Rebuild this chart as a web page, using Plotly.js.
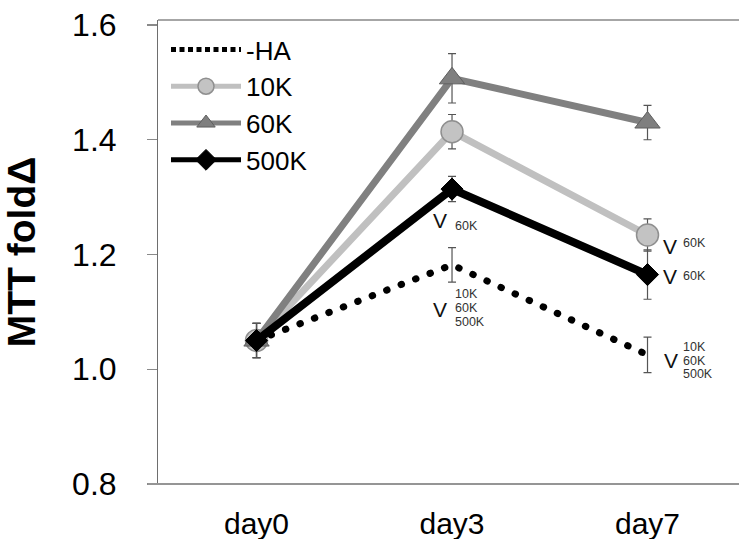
<!DOCTYPE html>
<html>
<head>
<meta charset="utf-8">
<script src="https://cdn.plot.ly/plotly-3.0.1.min.js"></script>
<style>
  html, body { margin: 0; padding: 0; background: #fff; overflow: hidden; }
  #chart { width: 739px; height: 539px; }
  .scatterlayer .trace:first-child path.js-line { stroke-linecap: round; }
  .legend .traces path.js-line { stroke-width: 5px !important; }
  .legend .traces:first-child path.js-line { stroke-dasharray: 5px,3.5px !important; stroke-linecap: butt !important; }
</style>
</head>
<body>
<div id="chart"></div>
<script>
// ---- data ----
const days = ["day0", "day3", "day7"];
const seriesNames = ["-HA", "10K", "60K", "500K"];
const haValues = [1.05, 1.182, 1.025];
const haErrors = [0.03, 0.030, 0.031];
const k10Values = [1.05, 1.414, 1.234];
const k10Errors = [0.03, 0.030, 0.028];
const k60Values = [1.05, 1.507, 1.430];
const k60Errors = [0.03, 0.043, 0.030];
const k500Values = [1.05, 1.314, 1.165];
const k500Errors = [0.03, 0.022, 0.043];
const yTickValues = [0.8, 1.0, 1.2, 1.4, 1.6];
const yTickLabels = ["0.8", "1.0", "1.2", "1.4", "1.6"];

const FONT = "Liberation Sans, Arial, sans-serif";
const errStyle = (arr) => ({ type: "data", array: arr, visible: true, color: "#555555", thickness: 1.2, width: 4 });

const traces = [
  {
    x: days, y: haValues, name: seriesNames[0], type: "scatter", mode: "lines",
    line: { color: "#000000", width: 7, dash: "0.5px,15px" },
    error_y: errStyle(haErrors)
  },
  {
    x: days, y: k10Values, name: seriesNames[1], type: "scatter", mode: "lines+markers",
    line: { color: "#c0c0c0", width: 7 },
    marker: { symbol: "circle", size: 22, color: "#c3c3c3", line: { color: "#8f8f8f", width: 1.5 } },
    error_y: errStyle(k10Errors)
  },
  {
    x: days, y: k60Values, name: seriesNames[2], type: "scatter", mode: "lines+markers",
    line: { color: "#808080", width: 7 },
    marker: { symbol: "triangle-up", size: 22, color: "#7f7f7f", line: { color: "#5f5f5f", width: 1 } },
    error_y: errStyle(k60Errors)
  },
  {
    x: days, y: k500Values, name: seriesNames[3], type: "scatter", mode: "lines+markers",
    line: { color: "#000000", width: 8 },
    marker: { symbol: "diamond", size: 17, color: "#000000", line: { color: "#000000", width: 1 } },
    error_y: errStyle(k500Errors)
  }
];

// significance annotations
const bigV = (x, y) => ({ x: x, y: y, xref: "x", yref: "y", text: "V", showarrow: false,
  xanchor: "center", yanchor: "middle", font: { family: FONT, size: 21, color: "#111111" } });
const small = (x, y, t) => ({ x: x, y: y, xref: "x", yref: "y", text: t, showarrow: false,
  xanchor: "left", yanchor: "middle", font: { family: FONT, size: 12.5, color: "#333333" } });

const annotations = [
  bigV(0.939, 1.2601), small(1.005, 1.2497, "60K"),
  bigV(0.939, 1.105), small(1.005, 1.1312, "10K"), small(1.005, 1.1076, "60K"), small(1.005, 1.0824, "500K"),
  bigV(2.115, 1.2148), small(2.171, 1.2200, "60K"),
  bigV(2.115, 1.1608), small(2.171, 1.1625, "60K"),
  bigV(2.12, 1.0161), small(2.171, 1.0388, "10K"), small(2.171, 1.0144, "60K"), small(2.171, 0.9917, "500K")
];

const layout = {
  width: 739, height: 539,
  margin: { l: 158, r: 0, t: 20, b: 55, pad: 0 },
  paper_bgcolor: "#ffffff", plot_bgcolor: "#ffffff",
  font: { family: FONT, color: "#000000" },
  showlegend: true,
  legend: {
    x: 8 / 581, y: 0.987, xanchor: "left", yanchor: "top",
    bgcolor: "rgba(0,0,0,0)", borderwidth: 0,
    font: { family: FONT, size: 26, color: "#000000" },
    itemwidth: 70, tracegroupgap: 0
  },
  xaxis: {
    type: "category", range: [-0.504, 2.468],
    showgrid: false, zeroline: false, showline: false,
    ticks: "", tickfont: { family: FONT, size: 30, color: "#000000" },
    ticklabelstandoff: 19, fixedrange: true
  },
  yaxis: {
    range: [0.8, 1.6087], tickvals: yTickValues, ticktext: yTickLabels,
    showgrid: false, zeroline: false, showline: true, linecolor: "#6e6e6e", linewidth: 1,
    ticks: "outside", ticklen: 10, tickcolor: "#8a8a8a", tickwidth: 1.5,
    tickfont: { family: FONT, size: 32, color: "#000000" },
    ticklabelstandoff: 24,
    title: { text: "MTT foldΔ", font: { family: FONT, size: 39, color: "#000000", weight: "bold" }, standoff: 24 },
    fixedrange: true
  },
  shapes: [
    { type: "line", xref: "paper", yref: "paper", x0: -10 / 581, x1: 1, y0: 0, y1: 0,
      line: { color: "#959595", width: 2 } },
    { type: "line", xref: "paper", yref: "paper", x0: 0, x1: 1, y0: 1, y1: 1,
      line: { color: "#a6a6a6", width: 2 } }
  ],
  annotations: annotations
};

Plotly.newPlot("chart", traces, layout, { staticPlot: true, displayModeBar: false });
</script>
</body>
</html>
